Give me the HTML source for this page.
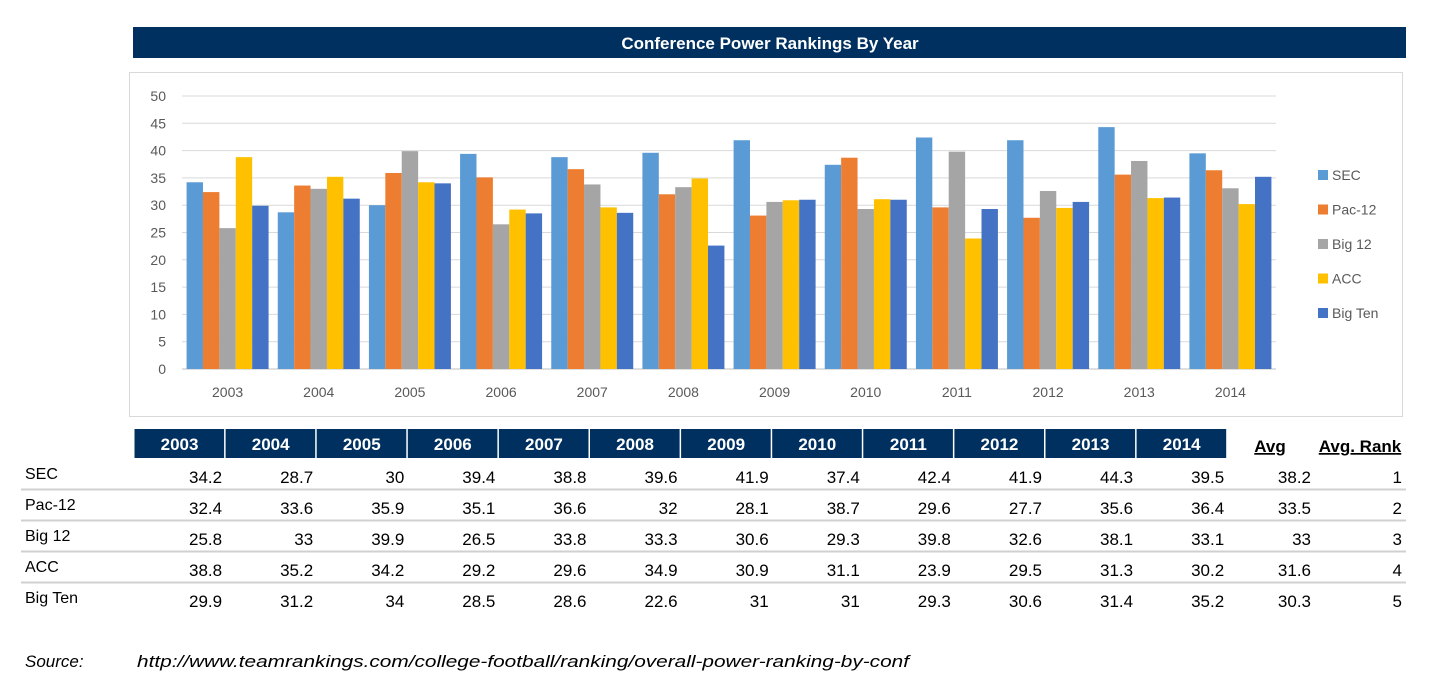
<!DOCTYPE html>
<html><head><meta charset="utf-8"><style>
html,body{margin:0;padding:0;background:#fff;width:1442px;height:683px;overflow:hidden}
svg{display:block;font-family:"Liberation Sans",sans-serif}
</style></head><body>
<svg id="s" width="1442" height="683" viewBox="0 0 1442 683">
<rect x="133" y="27" width="1273" height="31" fill="#003060"/>
<text x="770" y="49" text-anchor="middle" fill="#fff" font-size="17" font-weight="bold">Conference Power Rankings By Year</text>
<rect x="129.5" y="72.5" width="1273" height="344" fill="#fff" stroke="#d9d9d9"/>
<g id="grid"></g>
<g id="bars"></g>
<g id="axes"></g>
<g id="legend"></g>
<g id="table"></g>
<text x="25" y="667" font-size="17" font-style="italic" fill="#000">Source:</text>
<text x="137" y="667" font-size="17" font-style="italic" fill="#000" textLength="772" lengthAdjust="spacingAndGlyphs">http://www.teamrankings.com/college-football/ranking/overall-power-ranking-by-conf</text>
</svg>
<script>
const years=["2003","2004","2005","2006","2007","2008","2009","2010","2011","2012","2013","2014"];
const seriesNames=["SEC","Pac-12","Big 12","ACC","Big Ten"];
const sec=[34.2,28.7,30,39.4,38.8,39.6,41.9,37.4,42.4,41.9,44.3,39.5];
const pac12=[32.4,33.6,35.9,35.1,36.6,32,28.1,38.7,29.6,27.7,35.6,36.4];
const big12=[25.8,33,39.9,26.5,33.8,33.3,30.6,29.3,39.8,32.6,38.1,33.1];
const acc=[38.8,35.2,34.2,29.2,29.6,34.9,30.9,31.1,23.9,29.5,31.3,30.2];
const bigTen=[29.9,31.2,34,28.5,28.6,22.6,31,31,29.3,30.6,31.4,35.2];
const avgs=["38.2","33.5","33","31.6","30.3"];
const ranks=["1","2","3","4","5"];
const yTicks=[0,5,10,15,20,25,30,35,40,45,50];
const colors=["#5b9bd5","#ed7d31","#a5a5a5","#ffc000","#4472c4"];
const series=[sec,pac12,big12,acc,bigTen];
const NS="http://www.w3.org/2000/svg";
function mk(tag,attrs,parent,text){const e=document.createElementNS(NS,tag);for(const k in attrs)e.setAttribute(k,attrs[k]);if(text!==undefined)e.textContent=text;parent.appendChild(e);return e;}
const x0=182,x1=1276,yB=369,yT=96,yMax=50;
const y=v=>yB-(v/yMax)*(yB-yT);
const step=(x1-x0)/years.length;
const bw=16.4;
const gx=i=>x0+i*step+(step-5*bw)/2;
const grid=document.getElementById('grid'),axes=document.getElementById('axes'),bars=document.getElementById('bars');
yTicks.forEach(t=>{
 const l=mk('line',{x1:x0,x2:x1,y1:y(t),y2:y(t),stroke:t===0?'#bfbfbf':'#d9d9d9','stroke-width':1},grid);
 
 
 const tx=mk('text',{x:166,y:y(t)+5,'text-anchor':'end','font-size':14,fill:'#595959'},axes,String(t));
 
 
});
years.forEach((yr,i)=>{
 const tx=mk('text',{x:x0+i*step+step/2,y:397,'text-anchor':'middle','font-size':14,fill:'#595959'},axes,yr);
 
 
 series.forEach((s,j)=>{
  const r=mk('rect',{x:gx(i)+j*bw,y:y(s[i]),width:bw,height:yB-y(s[i]),fill:colors[j]},bars);
  
  
 });
});
const lg=document.getElementById('legend');
seriesNames.forEach((n,j)=>{
 const cy=175+j*34.5;
 const r=mk('rect',{x:1318,y:cy-5,width:10,height:10,fill:colors[j]},lg);
 
 
 const t=mk('text',{x:1332,y:cy+5,'font-size':14,fill:'#595959'},lg,n);
 
 
});
const tb=document.getElementById('table');
const cx0=134,cw=91.1;
years.forEach((yr,i)=>{
 const r=mk('rect',{x:cx0+i*cw+0.5,y:429,width:cw-1.5,height:29,fill:'#003060'},tb);
 
 
 const t=mk('text',{x:cx0+i*cw+cw/2,y:450,'text-anchor':'middle','font-size':17,'font-weight':'bold',fill:'#fff'},tb,yr);
 
 
});
[["Avg",1270],["Avg. Rank",1360]].forEach(([h,cx])=>{
 const t=mk('text',{x:cx,y:452,'text-anchor':'middle','font-size':17,'font-weight':'bold',fill:'#000','text-decoration':'underline'},tb,h);
 
 
});
seriesNames.forEach((n,j)=>{
 const base=460+j*31;
 const lb=mk('text',{x:25,y:base+19,'font-size':16,fill:'#000'},tb,n);
 
 
 series[j].forEach((v,i)=>{
  const t=mk('text',{x:cx0+(i+1)*cw-3,y:base+23,'text-anchor':'end','font-size':17,fill:'#000'},tb,String(v));
  
  
 });
 const a=mk('text',{x:1311,y:base+23,'text-anchor':'end','font-size':17,fill:'#000'},tb,avgs[j]);
 
 
 const rk=mk('text',{x:1402,y:base+23,'text-anchor':'end','font-size':17,fill:'#000'},tb,ranks[j]);
 
 
 if(j<4){
  const l=mk('line',{x1:21,x2:1406,y1:base+29.5,y2:base+29.5,stroke:'#d0d0d0','stroke-width':2},tb);
  
  
 }
});
</script>
</body></html>
